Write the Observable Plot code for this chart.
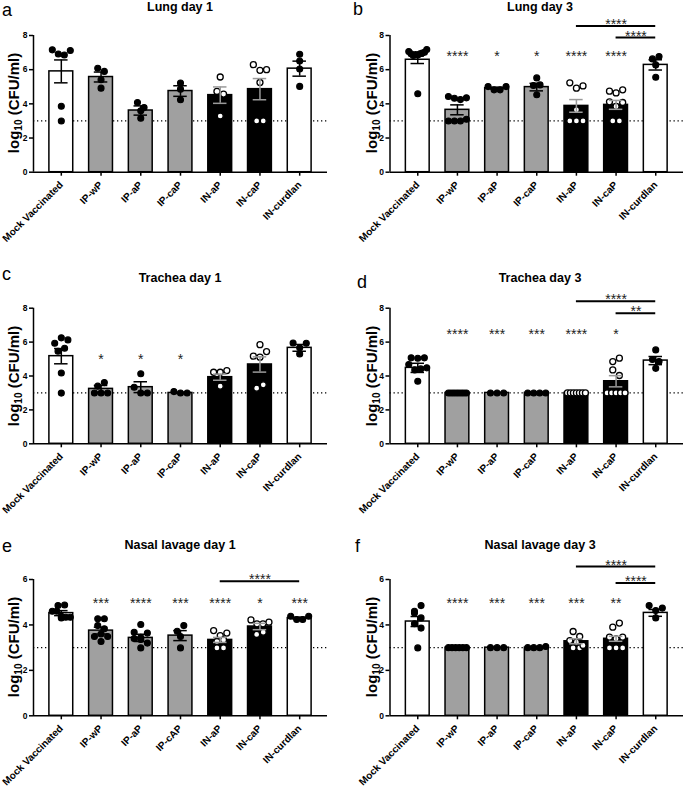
<!DOCTYPE html>
<html>
<head>
<meta charset="utf-8">
<script src="https://cdn.jsdelivr.net/npm/d3@7"></script>
<script src="https://cdn.jsdelivr.net/npm/@observablehq/plot@0.6"></script>
<style>
  body { margin: 0; background: #fff; }
  #root { position: relative; width: 685px; height: 787px; overflow: hidden;
          font-family: "Liberation Sans", Arial, Helvetica, sans-serif; color: #000; }
  .panel { position: absolute; }
  .panel svg { overflow: visible; }
  .title { position: absolute; font-weight: bold; font-size: 12.5px; line-height: 1;
           transform: translateX(-50%); white-space: nowrap; }
  .letter { position: absolute; font-size: 18px; line-height: 1; }
  .ylab { position: absolute; font-weight: bold; font-size: 15px; line-height: 1; white-space: nowrap;
          transform: translate(-50%, -50%) rotate(-90deg); }
  .ylab sub { font-size: 10px; vertical-align: -3px; }
</style>
</head>
<body>
<div id="root"></div>
<script>
// ---------------- DATA ----------------
const groups  = ["Mock Vaccinated", "IP-wP", "IP-aP", "IP-caP", "IN-aP", "IN-caP", "IN-curdlan"];
const groupsE = ["Mock Vaccinated", "IP-wP", "IP-aP", "IP-cAP", "IN-aP", "IN-caP", "IN-curdlan"];
const detectionLimit = 3;
const ticks8 = [0, 2, 4, 6, 8];
const ticks6 = [0, 2, 4, 6];

// a: Lung day 1
const lungD1Means = [5.90, 5.57, 3.61, 4.75, 4.51, 4.86, 6.06];
const lungD1Sems  = [0.67, 0.29, 0.27, 0.31, 0.48, 0.62, 0.44];
const lungD1Points = [
  [7.16, 6.92, 6.86, 7.12, 3.86, 3.0],
  [6.08, 5.90, 5.41, 4.92],
  [4.08, 3.59, 3.78, 3.16],
  [5.22, 4.86, 4.24],
  [4.73, 5.57, 4.57, 3.29],
  [6.29, 5.96, 6.00, 5.25, 3.0, 3.0],
  [6.90, 6.51, 6.04, 5.02]
];
const lungD1Stars = ["", "", "", "", "", "", ""];
const lungD1StarLevel = 7.0;
const lungD1Brackets = [];

// b: Lung day 3
const lungD3Means = [6.58, 3.65, 4.92, 4.98, 3.88, 3.94, 6.28];
const lungD3Sems  = [0.22, 0.29, 0.05, 0.22, 0.37, 0.26, 0.30];
const lungD3Points = [
  [7.06, 6.93, 6.83, 6.88, 6.86, 6.93, 6.97, 7.02, 7.18, 4.59],
  [4.43, 4.33, 4.25, 4.35, 3.0, 3.0, 3.0, 3.1],
  [5.01, 4.82, 4.82, 5.01],
  [5.52, 5.07, 5.11, 4.53],
  [5.23, 4.92, 5.05, 3.65, 3.0, 3.0, 3.0],
  [4.74, 4.64, 4.82, 4.12, 3.85, 4.08, 3.0, 3.0],
  [6.63, 6.28, 6.77, 5.56]
];
const lungD3Stars = ["", "****", "*", "*", "****", "****", ""];
const lungD3StarLevel = 7.0;
const lungD3Brackets = [
  { from: 4, to: 6, level: 8.55, label: "****" },
  { from: 5, to: 6, level: 7.88, label: "****" }
];

// c: Trachea day 1
const trachD1Means = [5.17, 3.24, 3.34, 3.0, 3.93, 4.68, 5.66];
const trachD1Sems  = [0.45, 0.20, 0.32, 0.03, 0.18, 0.45, 0.20];
const trachD1Points = [
  [5.93, 6.25, 5.46, 6.13, 5.64, 4.18, 2.99],
  [3.40, 3.61, 3.0, 3.0, 3.0],
  [3.34, 4.13, 3.0, 3.0],
  [3.08, 3.0, 3.0],
  [4.22, 4.22, 4.32, 3.40],
  [5.17, 5.85, 5.11, 5.44, 3.28, 3.48],
  [5.95, 5.66, 5.93, 5.30]
];
const trachD1Stars = ["", "*", "*", "*", "", "", ""];
const trachD1StarLevel = 5.17;
const trachD1Brackets = [];

// d: Trachea day 3
const trachD3Means = [4.48, 3.0, 3.0, 3.0, 3.0, 3.69, 4.91];
const trachD3Sems  = [0.27, 0, 0, 0, 0, 0.33, 0.24];
const trachD3Points = [
  [5.07, 5.05, 5.07, 4.68, 4.36, 4.42, 4.48, 3.69],
  [3.0, 3.0, 3.0, 3.0, 3.0, 3.0, 3.0, 3.0],
  [3.0, 3.0, 3.0],
  [3.0, 3.0, 3.0, 3.0],
  [3.0, 3.0, 3.0, 3.0, 3.0, 3.0, 3.0],
  [4.85, 5.05, 4.36, 4.03, 3.0, 3.0, 3.0, 3.0, 3.0],
  [4.45, 5.54, 4.97, 4.85]
];
const trachD3Stars = ["", "****", "***", "***", "****", "*", ""];
const trachD3StarLevel = 6.64;
const trachD3Brackets = [
  { from: 4, to: 6, level: 8.41, label: "****" },
  { from: 5, to: 6, level: 7.70, label: "**" }
];

// e: Nasal lavage day 1
const nasalD1Means = [4.52, 3.75, 3.43, 3.53, 3.34, 3.93, 4.30];
const nasalD1Sems  = [0.11, 0.15, 0.16, 0.22, 0.11, 0.14, 0.04];
const nasalD1Points = [
  [4.60, 4.85, 4.88, 4.60, 4.38, 4.34, 4.31, 4.34],
  [4.27, 3.97, 3.83, 4.27, 3.49, 3.60, 3.27, 3.49],
  [3.68, 4.02, 3.45, 3.40, 3.64, 3.36, 3.20, 2.99],
  [3.72, 3.97, 3.49, 2.99],
  [3.75, 3.53, 3.64, 3.27, 3.34, 2.99, 2.99],
  [4.22, 4.05, 4.05, 4.12, 3.58, 3.68],
  [4.38, 4.24, 4.24, 4.38]
];
const nasalD1Stars = ["", "***", "****", "***", "****", "*", "***"];
const nasalD1StarLevel = 5.10;
const nasalD1Brackets = [
  { from: 4, to: 6, level: 5.92, label: "****" }
];

// f: Nasal lavage day 3
const nasalD3Means = [4.15, 3.0, 3.0, 3.0, 3.28, 3.39, 4.53];
const nasalD3Sems  = [0.22, 0, 0, 0.01, 0.11, 0.11, 0.15];
const nasalD3Points = [
  [4.60, 4.85, 4.52, 4.31, 4.05, 3.86, 2.99],
  [3.0, 3.0, 3.0, 3.0, 3.0, 3.0],
  [3.0, 3.0, 3.0],
  [3.0, 3.0, 3.0, 3.05],
  [3.31, 3.71, 3.49, 3.24, 2.99, 2.99, 3.10],
  [3.46, 3.90, 4.08, 3.39, 3.46, 2.99, 2.99, 2.99],
  [4.85, 4.63, 4.74, 4.31]
];
const nasalD3Stars = ["", "****", "***", "***", "***", "**", ""];
const nasalD3StarLevel = 5.12;
const nasalD3Brackets = [
  { from: 4, to: 6, level: 6.57, label: "****" },
  { from: 5, to: 6, level: 5.85, label: "****" }
];

// group styling
const barFills  = ["#ffffff", "#a0a0a0", "#a0a0a0", "#a0a0a0", "#000000", "#000000", "#ffffff"];
const errColors = ["#000", "#000", "#000", "#000", "#9a9a9a", "#9a9a9a", "#000"];
const openDots  = [false, false, false, false, true, true, false];

// ---------------- LAYOUT ----------------
const cols = [
  { left: 0,   width: 340, ml: 33,   mr: 13, titleX: 180, ylabX: 14.5 },
  { left: 340, width: 345, ml: 49.5, mr: 2,  titleX: 540, ylabX: 373 }
];
const rows = [
  { top: 0,   height: 260, mt: 35,   mb: 88.3, titleTop: 1 },
  { top: 260, height: 260, mt: 47.7, mb: 76.7, titleTop: 271.5 },
  { top: 520, height: 267, mt: 59,   mb: 71.7, titleTop: 538.5 }
];

const panels = [
  { letter: "a", lx: 2,   ly: 0.8,   title: "Lung day 1",        col: 0, row: 0, cats: groups,  means: lungD1Means,  sems: lungD1Sems,  points: lungD1Points,  stars: lungD1Stars,  starLevel: lungD1StarLevel,  brackets: lungD1Brackets,  yMax: 8, yTicks: ticks8 },
  { letter: "b", lx: 353, ly: 0,     title: "Lung day 3",        col: 1, row: 0, cats: groups,  means: lungD3Means,  sems: lungD3Sems,  points: lungD3Points,  stars: lungD3Stars,  starLevel: lungD3StarLevel,  brackets: lungD3Brackets,  yMax: 8, yTicks: ticks8 },
  { letter: "c", lx: 2,   ly: 265,   title: "Trachea day 1",     col: 0, row: 1, cats: groups,  means: trachD1Means, sems: trachD1Sems, points: trachD1Points, stars: trachD1Stars, starLevel: trachD1StarLevel, brackets: trachD1Brackets, yMax: 8, yTicks: ticks8 },
  { letter: "d", lx: 357, ly: 273,   title: "Trachea day 3",     col: 1, row: 1, cats: groups,  means: trachD3Means, sems: trachD3Sems, points: trachD3Points, stars: trachD3Stars, starLevel: trachD3StarLevel, brackets: trachD3Brackets, yMax: 8, yTicks: ticks8 },
  { letter: "e", lx: 2,   ly: 536.5, title: "Nasal lavage day 1", col: 0, row: 2, cats: groupsE, means: nasalD1Means, sems: nasalD1Sems, points: nasalD1Points, stars: nasalD1Stars, starLevel: nasalD1StarLevel, brackets: nasalD1Brackets, yMax: 6, yTicks: ticks6 },
  { letter: "f", lx: 355, ly: 536.5, title: "Nasal lavage day 3", col: 1, row: 2, cats: groups,  means: nasalD3Means, sems: nasalD3Sems, points: nasalD3Points, stars: nasalD3Stars, starLevel: nasalD3StarLevel, brackets: nasalD3Brackets, yMax: 6, yTicks: ticks6 }
];

// beeswarm-like horizontal spreading (pixel offsets) for a group of values
function swarm(values, pxPerY) {
  const diam = 6.6, maxSpread = 18, rowTol = 6;
  const order = values.map((v, i) => i).sort((a, b) => values[b] - values[a]);
  const groupsOut = [];
  let cur = [order[0]];
  for (let k = 1; k < order.length; k++) {
    if ((values[cur[0]] - values[order[k]]) * pxPerY < rowTol) cur.push(order[k]);
    else { groupsOut.push(cur); cur = [order[k]]; }
  }
  groupsOut.push(cur);
  const offs = new Array(values.length).fill(0);
  for (const g of groupsOut) {
    g.sort((a, b) => a - b);
    const n = g.length;
    const s = n > 1 ? Math.min(diam, maxSpread / (n - 1)) : 0;
    g.forEach((j, k) => { offs[j] = (k - (n - 1) / 2) * s; });
  }
  return offs;
}

const root = document.getElementById("root");
const xDom = [-0.7, 6.7];
const halfBar = 0.3, halfCap = 0.17;

for (const p of panels) {
  const c = cols[p.col], r = rows[p.row];
  const pxX = (c.width - c.ml - c.mr) / (xDom[1] - xDom[0]);
  const pxY = (r.height - r.mt - r.mb) / p.yMax;

  const bars = p.cats.map((name, i) => ({
    i, name, mean: p.means[i], sem: p.sems[i], fill: barFills[i], err: errColors[i]
  }));
  const errs = bars.filter(d => d.sem > 0.02);
  const dots = [];
  p.points.forEach((vals, i) => {
    const offs = swarm(vals, pxY);
    vals.forEach((v, k) => dots.push({ x: i + offs[k] / pxX, v, open: openDots[i] }));
  });
  const starRows = p.stars.map((s, i) => ({ i, s })).filter(d => d.s);

  const chart = Plot.plot({
    width: c.width, height: r.height,
    marginLeft: c.ml, marginRight: c.mr, marginTop: r.mt, marginBottom: r.mb,
    style: { fontFamily: '"Liberation Sans", Arial, Helvetica, sans-serif', fontWeight: "bold", background: "transparent", overflow: "visible" },
    x: { domain: xDom },
    y: { domain: [0, p.yMax] },
    color: { type: "identity" },
    marks: [
      Plot.ruleY([detectionLimit], { stroke: "#000", strokeWidth: 1.3, strokeDasharray: "1.3 2.7" }),
      Plot.rect(bars, { x1: d => d.i - halfBar, x2: d => d.i + halfBar, y1: d => 0, y2: "mean",
                        fill: "fill", stroke: "#000", strokeWidth: 1.5 }),
      Plot.dot(dots.filter(d => !d.open), { x: "x", y: "v", r: 3, fill: "#000", stroke: "#000", strokeWidth: 1.1 }),
      Plot.dot(dots.filter(d => d.open), { x: "x", y: "v", r: 3, fill: "#fff", stroke: "#000", strokeWidth: 1.3 }),
      Plot.ruleX(errs, { x: "i", y1: d => d.mean - d.sem, y2: d => d.mean + d.sem, stroke: "err", strokeWidth: 1.5 }),
      Plot.ruleY(errs, { y: d => d.mean + d.sem, x1: d => d.i - halfCap, x2: d => d.i + halfCap, stroke: "err", strokeWidth: 1.5 }),
      Plot.ruleY(errs, { y: d => d.mean - d.sem, x1: d => d.i - halfCap, x2: d => d.i + halfCap, stroke: "err", strokeWidth: 1.5 }),
      Plot.text(starRows, { x: "i", y: d => p.starLevel, text: "s", fontSize: 14, fontWeight: "normal", fill: "#222", dy: 3.6 }),
      Plot.ruleY(p.brackets, { y: "level", x1: "from", x2: "to", stroke: "#000", strokeWidth: 2 }),
      Plot.text(p.brackets, { x: d => (d.from + d.to) / 2, y: "level", text: "label", fontSize: 14, fontWeight: "normal", fill: "#222", dy: -1.4 }),
      Plot.ruleY([0], { stroke: "#000", strokeWidth: 1.5 }),
      Plot.ruleX([xDom[0]], { stroke: "#000", strokeWidth: 1.5 }),
      Plot.axisY({ ticks: p.yTicks, tickSize: 4, tickPadding: 2, strokeWidth: 1.5, fontSize: 8.5, label: null, tickFormat: d => String(d) }),
      Plot.axisX({ ticks: d3.range(p.cats.length), tickFormat: i => p.cats[i], tickRotate: -45, tickSize: 4, tickPadding: 7,
                   strokeWidth: 1.5, fontSize: 10, label: null })
    ]
  });

  const wrap = document.createElement("div");
  wrap.className = "panel";
  wrap.style.left = c.left + "px";
  wrap.style.top = r.top + "px";
  wrap.appendChild(chart);
  root.appendChild(wrap);

  const t = document.createElement("div");
  t.className = "title";
  t.style.left = c.titleX + "px";
  t.style.top = r.titleTop + "px";
  t.textContent = p.title;
  root.appendChild(t);

  const l = document.createElement("div");
  l.className = "letter";
  l.style.left = p.lx + "px";
  l.style.top = p.ly + "px";
  l.textContent = p.letter;
  root.appendChild(l);

  const yl = document.createElement("div");
  yl.className = "ylab";
  yl.style.left = c.ylabX + "px";
  yl.style.top = (r.top + r.mt + (r.height - r.mt - r.mb) / 2) + "px";
  yl.innerHTML = "log<sub>10</sub> (CFU/ml)";
  root.appendChild(yl);
}
</script>
</body>
</html>
